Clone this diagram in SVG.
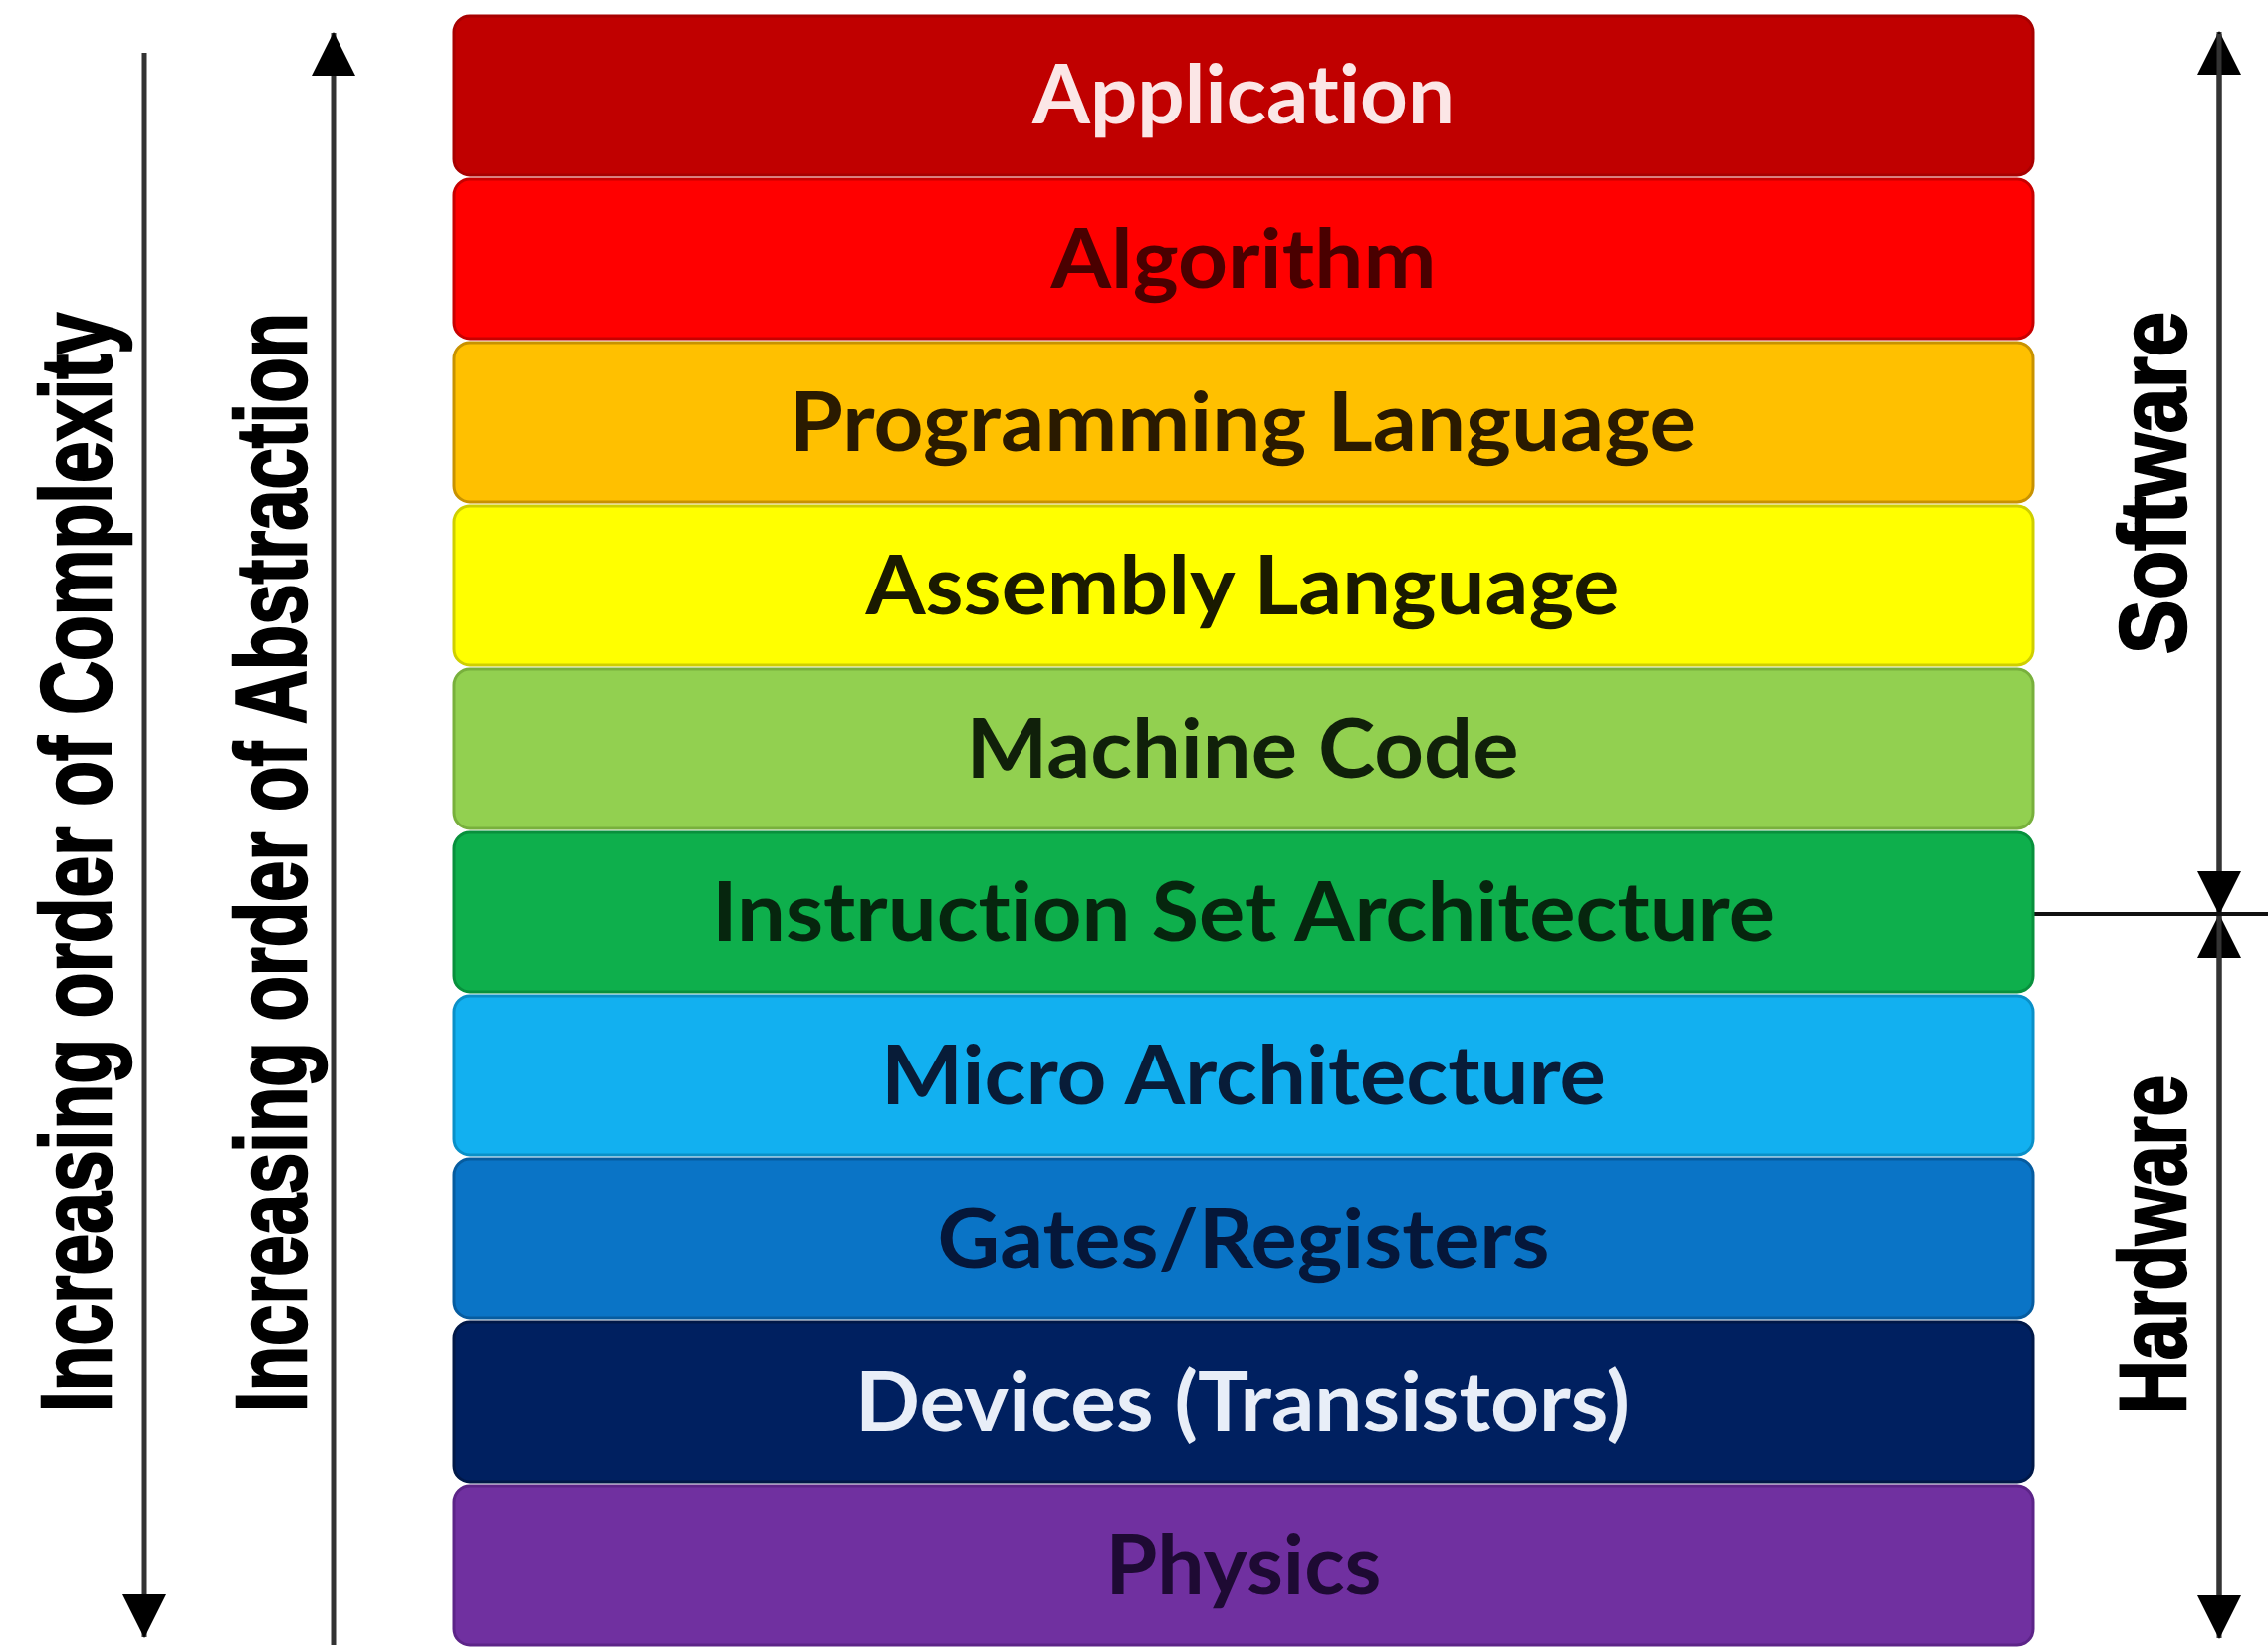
<svg xmlns="http://www.w3.org/2000/svg" width="2278" height="1657" viewBox="0 0 2278 1657">
<defs>
<style>
.bar{stroke-width:3}
.lbl{font-family:Lato,"Open Sans","Liberation Sans",sans-serif;font-weight:700;font-size:82px;text-anchor:middle;font-variant-ligatures:none;font-feature-settings:"liga" 0}
.side{font-family:"Liberation Sans",Arial,sans-serif;font-weight:700;font-size:100px;text-anchor:middle;fill:#000;stroke:#000;stroke-width:2.5px}
.ln{stroke:#333;stroke-width:5;fill:none}
</style>
<marker id="ah" viewBox="0 0 45 44" refX="43" refY="22" markerWidth="45" markerHeight="44" markerUnits="userSpaceOnUse" orient="auto">
<path d="M0,0 L44,22 L0,44 Z" fill="#000"/>
</marker>
</defs>
<rect width="2278" height="1657" fill="#fff"/>
<g id="connectors">
<line class="ln" x1="145" y1="53" x2="145" y2="1644" marker-end="url(#ah)"/>
<line class="ln" x1="335" y1="1652" x2="335" y2="33" marker-end="url(#ah)"/>
<line class="ln" x1="2229" y1="918" x2="2229" y2="32" marker-end="url(#ah)"/>
<line class="ln" x1="2229" y1="34" x2="2229" y2="918" marker-end="url(#ah)"/>
<line class="ln" x1="2229" y1="1640" x2="2229" y2="919" marker-end="url(#ah)"/>
<line class="ln" x1="2229" y1="920" x2="2229" y2="1645" marker-end="url(#ah)"/>
<line x1="2043" y1="918" x2="2278" y2="918" stroke="#111" stroke-width="4"/>
</g>
<g id="layer-application">
<rect class="bar" x="456" y="16" width="1586" height="160" rx="16" fill="#C00000" stroke="#A80000"/>
<text class="lbl" x="1249" y="124" fill="#FBE6E6" textLength="424" lengthAdjust="spacingAndGlyphs">Application</text>
</g>
<g id="layer-algorithm">
<rect class="bar" x="456" y="180" width="1586" height="160" rx="16" fill="#FF0000" stroke="#C80000"/>
<text class="lbl" x="1249" y="289" fill="#4A0000" textLength="387" lengthAdjust="spacingAndGlyphs">Algorithm</text>
</g>
<g id="layer-programming-language">
<rect class="bar" x="456" y="344" width="1586" height="160" rx="16" fill="#FFC000" stroke="#C89200"/>
<text class="lbl" x="1248" y="453" fill="#2A1A00" textLength="910" lengthAdjust="spacingAndGlyphs">Programming Language</text>
</g>
<g id="layer-assembly-language">
<rect class="bar" x="456" y="508" width="1586" height="160" rx="16" fill="#FFFF00" stroke="#CFCF00"/>
<text class="lbl" x="1248" y="617" fill="#1A1A00" textLength="757" lengthAdjust="spacingAndGlyphs">Assembly Language</text>
</g>
<g id="layer-machine-code">
<rect class="bar" x="456" y="672" width="1586" height="160" rx="16" fill="#92D050" stroke="#78B03C"/>
<text class="lbl" x="1248" y="781" fill="#10200A" textLength="555" lengthAdjust="spacingAndGlyphs">Machine Code</text>
</g>
<g id="layer-isa">
<rect class="bar" x="456" y="836" width="1586" height="160" rx="16" fill="#0EAF4C" stroke="#08903C"/>
<text class="lbl" x="1249" y="945" fill="#06260E" textLength="1068" lengthAdjust="spacingAndGlyphs">Instruction Set Architecture</text>
</g>
<g id="layer-micro-architecture">
<rect class="bar" x="456" y="1000" width="1586" height="160" rx="16" fill="#12B0F0" stroke="#0A90C8"/>
<text class="lbl" x="1249" y="1109" fill="#081C38" textLength="728" lengthAdjust="spacingAndGlyphs">Micro Architecture</text>
</g>
<g id="layer-gates-registers">
<rect class="bar" x="456" y="1164" width="1586" height="160" rx="16" fill="#0A74C6" stroke="#065CA0"/>
<text class="lbl" x="1249" y="1273" fill="#05173A" textLength="615" lengthAdjust="spacingAndGlyphs">Gates/Registers</text>
</g>
<g id="layer-devices">
<rect class="bar" x="456" y="1328" width="1586" height="160" rx="16" fill="#002060" stroke="#001848"/>
<text class="lbl" x="1248" y="1437" fill="#E8EEF8" textLength="778" lengthAdjust="spacingAndGlyphs">Devices (Transistors)</text>
</g>
<g id="layer-physics">
<rect class="bar" x="456" y="1492" width="1586" height="160" rx="16" fill="#7030A0" stroke="#5C2488"/>
<text class="lbl" x="1249" y="1601" fill="#1E0A33" textLength="277" lengthAdjust="spacingAndGlyphs">Physics</text>
</g>
<g id="label-complexity">
<text class="side" transform="translate(111,866) rotate(-90)" textLength="1104" lengthAdjust="spacingAndGlyphs">Increasing order of Complexity</text>
</g>
<g id="label-abstraction">
<text class="side" transform="translate(307,866) rotate(-90)" textLength="1104" lengthAdjust="spacingAndGlyphs">Increasing order of Abstraction</text>
</g>
<g id="label-software">
<text class="side" style="font-size:95px" transform="translate(2195,485) rotate(-90)" textLength="344" lengthAdjust="spacingAndGlyphs">Software</text>
</g>
<g id="label-hardware">
<text class="side" style="font-size:95px" transform="translate(2195,1250) rotate(-90)" textLength="340" lengthAdjust="spacingAndGlyphs">Hardware</text>
</g>
</svg>
